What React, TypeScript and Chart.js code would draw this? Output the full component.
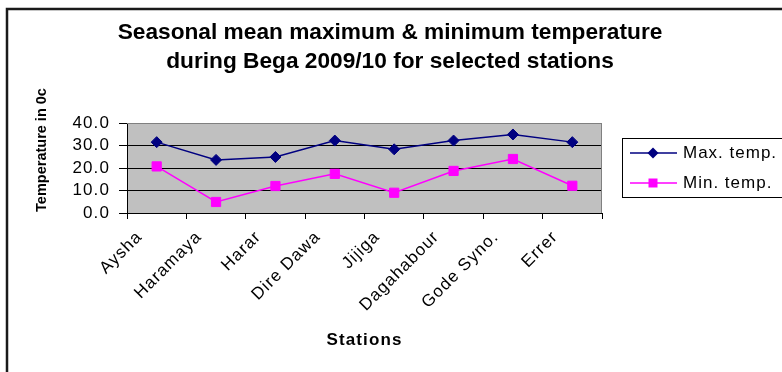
import React, { useEffect, useRef } from "react";
import { Chart, registerables } from "chart.js";

Chart.register(...registerables);

const stations = ["Aysha", "Haramaya", "Harar", "Dire Dawa", "Jijiga", "Dagahabour", "Gode Syno.", "Errer"];
const maxTemp = [31.5, 23.6, 24.9, 32.2, 28.3, 32.2, 34.9, 31.5];
const minTemp = [20.7, 4.9, 12.0, 17.4, 9.0, 18.7, 24.0, 12.1];
const seriesNames = ["Max. temp.", "Min. temp."];
const titleLines = ["Seasonal mean maximum & minimum temperature", "during Bega 2009/10 for selected stations"];
const yAxisTitle = "Temperature in 0c";
const xAxisTitle = "Stations";
const yMin = 0;
const yMax = 40;
const yStep = 10;

const FONT = "Arial, 'Liberation Sans', sans-serif";

const decorPlugin = {
  id: "decor",
  beforeDraw(chart: any) {
    const { ctx, chartArea } = chart;
    ctx.save();
    ctx.fillStyle = "#ffffff";
    ctx.fillRect(0, 0, chart.width, chart.height);
    ctx.fillStyle = "#c0c0c0";
    ctx.fillRect(chartArea.left, chartArea.top, chartArea.right - chartArea.left, chartArea.bottom - chartArea.top);
    ctx.restore();
    ctx.letterSpacing = "1.1px";
  },
  beforeDatasetsDraw(chart: any) {
    const { ctx, chartArea } = chart;
    ctx.save();
    ctx.strokeStyle = "#808080";
    ctx.lineWidth = 1;
    ctx.beginPath();
    ctx.moveTo(chartArea.left, chartArea.top + 0.5);
    ctx.lineTo(chartArea.right - 0.5, chartArea.top + 0.5);
    ctx.lineTo(chartArea.right - 0.5, chartArea.bottom);
    ctx.stroke();
    ctx.restore();
  },
  afterDraw(chart: any) {
    const { ctx } = chart;
    ctx.save();
    // outer frame
    ctx.strokeStyle = "#1a1a1a";
    ctx.lineWidth = 2.5;
    ctx.strokeRect(7, 9, 1000, 1000);
    // title
    ctx.fillStyle = "#000";
    ctx.textAlign = "center";
    ctx.textBaseline = "middle";
    ctx.letterSpacing = "0px";
    ctx.font = `bold 22.7px ${FONT}`;
    ctx.fillText(titleLines[0], 390, 33);
    ctx.fillText(titleLines[1], 390, 62);
    // y axis title
    ctx.save();
    ctx.translate(42, 150);
    ctx.rotate(-Math.PI / 2);
    ctx.font = `bold 14.5px ${FONT}`;
    ctx.fillText(yAxisTitle, 0, 0);
    ctx.restore();
    // legend
    const lx = 622, ly = 138, lh = 59;
    ctx.fillStyle = "#fff";
    ctx.fillRect(lx, ly, 200, lh);
    ctx.strokeStyle = "#000";
    ctx.lineWidth = 1;
    ctx.strokeRect(lx + 0.5, ly + 0.5, 200, lh);
    const rows = [153, 183];
    chart.data.datasets.forEach((ds: any, i: number) => {
      const y = rows[i];
      ctx.strokeStyle = ds.borderColor;
      ctx.lineWidth = 1.5;
      ctx.beginPath();
      ctx.moveTo(630, y);
      ctx.lineTo(677, y);
      ctx.stroke();
      ctx.fillStyle = ds.borderColor;
      ctx.beginPath();
      if (ds.pointStyle === "rectRot") {
        const r = 5.5;
        ctx.moveTo(653 - r, y);
        ctx.lineTo(653, y - r);
        ctx.lineTo(653 + r, y);
        ctx.lineTo(653, y + r);
        ctx.closePath();
      } else {
        ctx.rect(653 - 4.5, y - 4.5, 9, 9);
      }
      ctx.fill();
      ctx.fillStyle = "#000";
      ctx.textAlign = "left";
      ctx.textBaseline = "middle";
      ctx.letterSpacing = "1px";
      ctx.font = `17px ${FONT}`;
      ctx.fillText(ds.label, 683, y);
    });
    ctx.restore();
  },
};

export default function App() {
  const ref = useRef<HTMLCanvasElement>(null);
  useEffect(() => {
    document.body.style.margin = "0";
    const chart = new Chart(ref.current as HTMLCanvasElement, {
      type: "line",
      data: {
        labels: stations,
        datasets: [
          {
            label: seriesNames[0],
            data: maxTemp,
            borderColor: "#000080",
            backgroundColor: "#000080",
            borderWidth: 1.5,
            pointStyle: "rectRot",
            pointRadius: 5.5,
            pointHoverRadius: 5.5,
            pointBackgroundColor: "#000080",
            pointBorderColor: "#000080",
            pointBorderWidth: 1,
            tension: 0,
          },
          {
            label: seriesNames[1],
            data: minTemp,
            borderColor: "#ff00ff",
            backgroundColor: "#ff00ff",
            borderWidth: 1.5,
            pointStyle: "rect",
            pointRadius: 6.5,
            pointHoverRadius: 6.5,
            pointBackgroundColor: "#ff00ff",
            pointBorderColor: "#ff00ff",
            pointBorderWidth: 1,
            tension: 0,
          },
        ],
      },
      options: {
        animation: false,
        responsive: false,
        devicePixelRatio: 1,
        events: [],
        layout: { padding: { top: 123, right: 180, left: 0, bottom: 0 } },
        plugins: {
          legend: { display: false },
          title: { display: false },
          tooltip: { enabled: false },
        },
        scales: {
          x: {
            type: "category",
            offset: true,
            grid: {
              offset: true,
              drawOnChartArea: false,
              drawTicks: true,
              tickLength: 6,
              color: "#000",
              tickColor: "#000",
            },
            border: { color: "#000", width: 1 },
            ticks: {
              autoSkip: false,
              maxRotation: 45,
              minRotation: 45,
              labelOffset: -17,
              padding: 8,
              color: "#000",
              font: { family: FONT, size: 17 },
            },
            title: {
              display: true,
              text: xAxisTitle,
              color: "#000",
              font: { family: FONT, size: 17, weight: "bold" },
              padding: { top: 0, bottom: 21 },
            },
            afterFit(scale: any) {
              scale.height = 159;
            },
          },
          y: {
            min: yMin,
            max: yMax,
            ticks: {
              stepSize: yStep,
              autoSkip: false,
              color: "#000",
              padding: 9,
              font: { family: FONT, size: 17 },
              callback: (v: any) => Number(v).toFixed(1),
            },
            grid: {
              color: (c: any) => (c.tick && c.tick.value === yMax ? "#808080" : "#000"),
              tickColor: "#000",
              tickLength: 8,
              lineWidth: 1,
            },
            border: { color: "#000", width: 1 },
            afterFit(scale: any) {
              scale.width = 127;
            },
          },
        },
      },
      plugins: [decorPlugin],
    } as any);
    return () => chart.destroy();
  }, []);
  return (
    <div style={{ position: "absolute", left: 0, top: 0, width: 782, height: 372, background: "#fff" }}>
      <canvas ref={ref} width={782} height={372} style={{ display: "block", width: 782, height: 372 }} />
    </div>
  );
}
